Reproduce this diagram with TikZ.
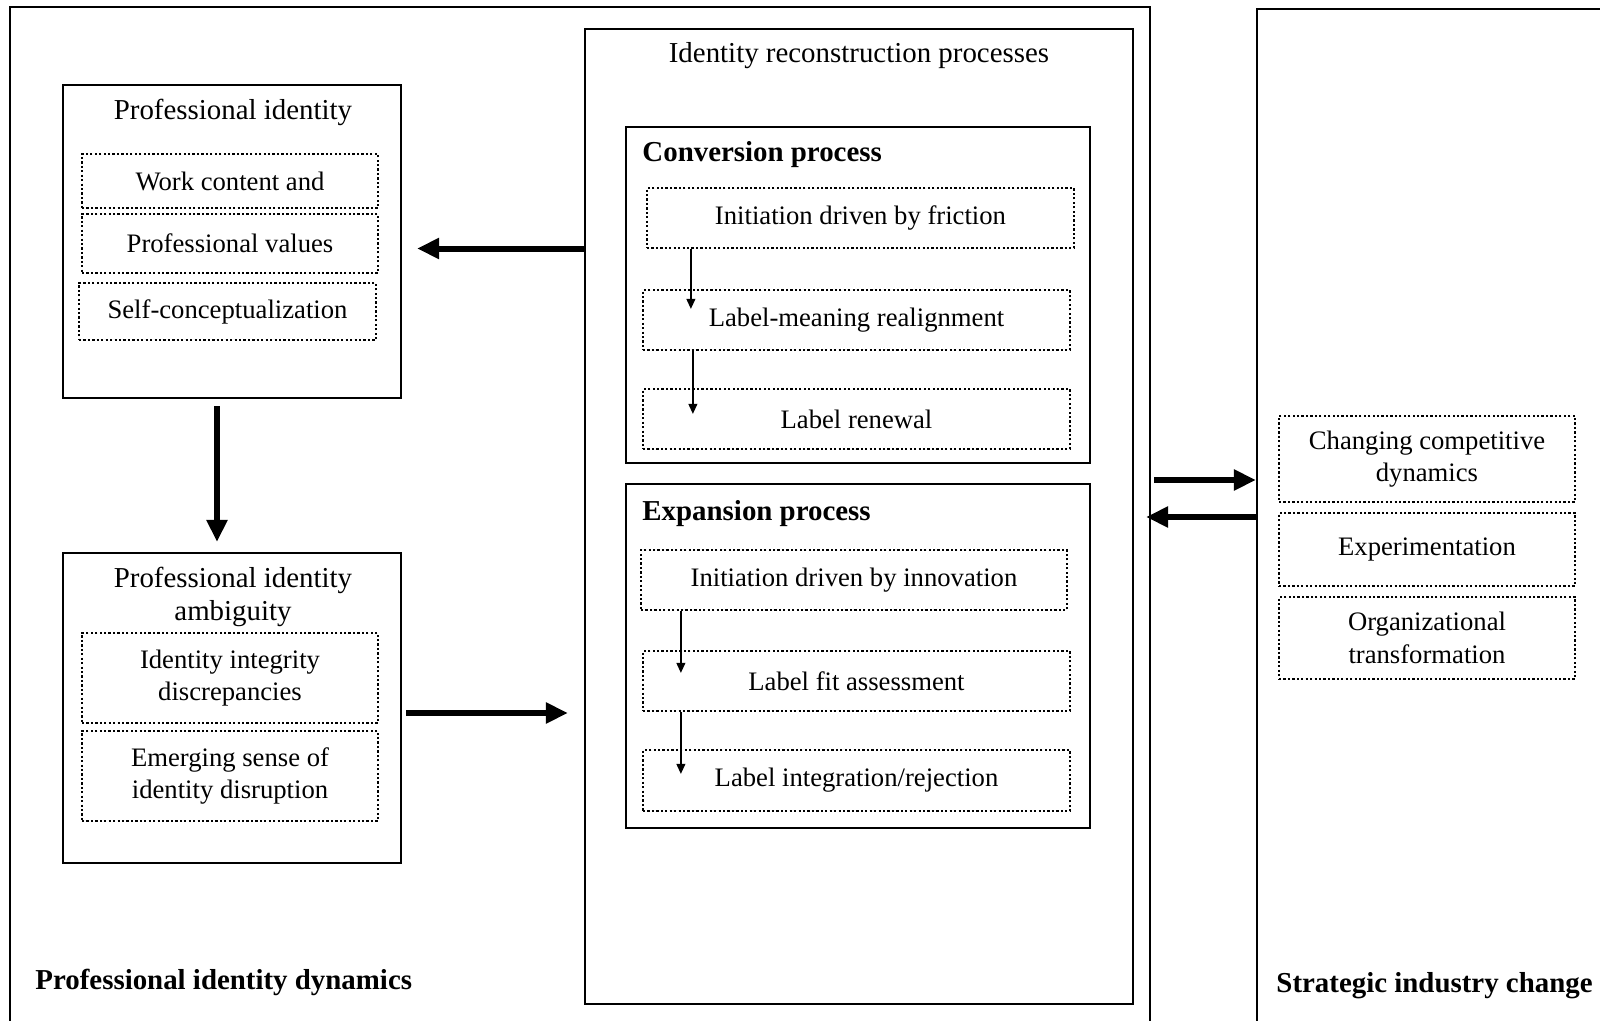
\documentclass[tikz,border=0pt]{standalone}
\usepackage{fontspec}
\setmainfont{Liberation Serif}
\usetikzlibrary{arrows.meta}
\def\px{0.45pt}

\begin{document}
\begin{tikzpicture}[x=\px,y=-\px,font=\fontsize{13}{15}\selectfont]
    \tikzstyle{box}=[draw,line width=0.9pt,inner sep=0pt]
    \tikzstyle{item}=[draw,dash pattern=on 1pt off 1pt,line width=1pt,inner sep=0pt,align=center,font=\fontsize{12}{14.6}\selectfont]
    \tikzstyle{title}=[inner sep=0pt,align=center]
    \tikzstyle{big arrow}=[-{Triangle[length=10pt,width=9pt]},line width=2.7pt]
    \tikzstyle{small arrow}=[-{Triangle[length=4.5pt,width=4pt]},line width=0.6pt]

    \useasboundingbox (0,0) rectangle (1600,1021);
    \clip (0,0) rectangle (1600,1021);

    % Frames
    \node[box,minimum width=1140*\px,minimum height=1033*\px] (dyn) at (580,523.5) {};
    \node[box,minimum width=363*\px,minimum height=1031*\px] (ind) at (1438.5,524.5) {};
    \node[box,minimum width=548*\px,minimum height=975*\px] (mid) at (859,516.5) {};

    % Professional identity
    \node[box,minimum width=338*\px,minimum height=313*\px] (pi) at (232,241.5) {};
    \node[title] (pi-t) at (233,112) {Professional identity};
    \node[item,minimum width=296*\px,minimum height=54*\px] (pi-1) at (230,181) {Work content and};
    \node[item,minimum width=296*\px,minimum height=59*\px] (pi-2) at (230,243.5) {Professional values};
    \node[item,minimum width=297*\px,minimum height=57*\px] (pi-3) at (227.5,311.5) {Self-conceptualization};

    % Professional identity ambiguity
    \node[box,minimum width=338*\px,minimum height=310*\px] (pia) at (232,708) {};
    \node[title] (pia-t) at (233,597) {Professional identity\\ambiguity};
    \node[item,minimum width=296*\px,minimum height=90*\px] (pia-1) at (230,678) {Identity integrity\\discrepancies};
    \node[item,minimum width=296*\px,minimum height=90*\px] (pia-2) at (230,776) {Emerging sense of\\identity disruption};

    % Identity reconstruction processes
    \node[title] (mid-t) at (859,56) {Identity reconstruction processes};

    \node[box,minimum width=464*\px,minimum height=336*\px] (conv) at (858,295) {};
    \node[title,anchor=west] (conv-t) at (642,155) {\textbf{Conversion process}};
    \node[item,minimum width=427*\px,minimum height=60*\px] (fric) at (860.5,218) {Initiation driven by friction};
    \node[item,minimum width=427*\px,minimum height=60*\px] (realign) at (856.5,320) {Label-meaning realignment};
    \node[item,minimum width=427*\px,minimum height=60*\px] (renew) at (856.5,419) {Label renewal};

    \node[box,minimum width=464*\px,minimum height=344*\px] (exp) at (858,656) {};
    \node[title,anchor=west] (exp-t) at (642,514) {\textbf{Expansion process}};
    \node[item,minimum width=426*\px,minimum height=60*\px] (innov) at (854,580) {Initiation driven by innovation};
    \node[item,minimum width=427*\px,minimum height=60*\px] (fit) at (856.5,681) {Label fit assessment};
    \node[item,minimum width=427*\px,minimum height=61*\px] (integ) at (856.5,780.5) {Label integration/rejection};

    % Strategic industry change
    \node[item,minimum width=296*\px,minimum height=86*\px] (ind-1) at (1427,459) {Changing competitive\\dynamics};
    \node[item,minimum width=296*\px,minimum height=73*\px] (ind-2) at (1427,549.5) {Experimentation};
    \node[item,minimum width=296*\px,minimum height=82*\px] (ind-3) at (1427,638) {Organizational\\transformation};

    % Frame labels
    \node[title,anchor=west] (dyn-t) at (35,982) {\textbf{Professional identity dynamics}};
    \node[title,anchor=west] (ind-t) at (1276,986) {\textbf{Strategic industry change}};

    % Thick arrows
    \draw[big arrow,shorten >=15*\px] ([yshift=-5*\px]mid.west |- pi-2.east) -- ([yshift=-5*\px]pi.east |- pi-2.east);
    \draw[big arrow,shorten <=7*\px,shorten >=10*\px] ([xshift=-15*\px]pi.south) -- ([xshift=-15*\px]pia.north);
    \draw[big arrow,shorten <=4*\px,shorten >=16*\px] ([yshift=-5*\px]pia.east) -- ([yshift=-5*\px]mid.west |- pia.east);
    \draw[big arrow,shorten <=3*\px] ([yshift=43.5*\px]dyn.east) -- ([yshift=43.5*\px]dyn.east -| ind.west);
    \draw[big arrow,shorten >=12*\px] ([yshift=7.5*\px]ind.west) -- ([yshift=7.5*\px]ind.west -| mid.east);

    % Small arrows between the steps
    \draw[small arrow] ([xshift=45*\px]fric.south west) -- ([xshift=49*\px,yshift=-20*\px]realign.north west);
    \draw[small arrow] ([xshift=51*\px]realign.south west) -- ([xshift=51*\px,yshift=-26*\px]renew.north west);
    \draw[small arrow] ([xshift=41*\px]innov.south west) -- ([xshift=39*\px,yshift=-23*\px]fit.north west);
    \draw[small arrow] ([xshift=39*\px]fit.south west) -- ([xshift=39*\px,yshift=-25*\px]integ.north west);
\end{tikzpicture}
\end{document}
